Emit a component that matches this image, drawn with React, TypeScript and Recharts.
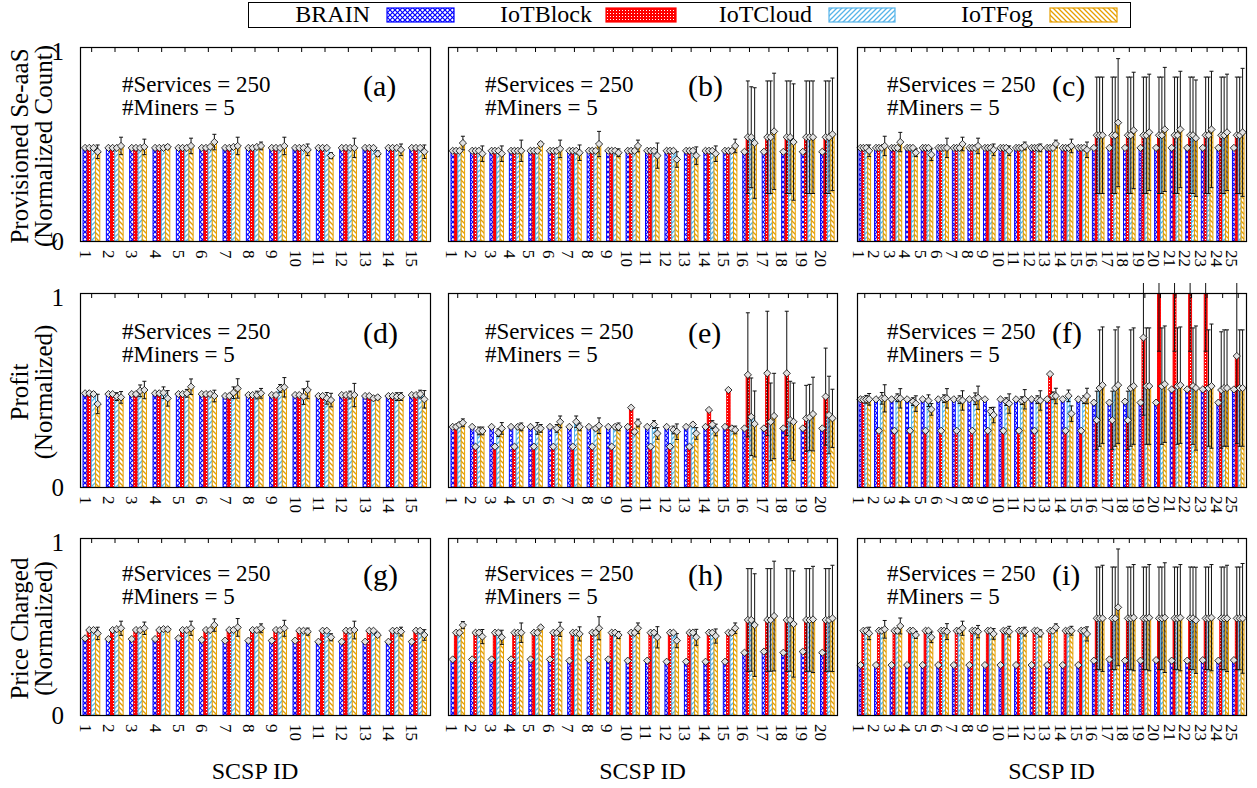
import React from "react";
import { BarChart, Bar, XAxis, YAxis, ErrorBar, LabelList, ReferenceLine } from "recharts";

const FONT = '"Liberation Serif", "Times New Roman", serif';

const SERIES = ["BRAIN", "IoTBlock", "IoTCloud", "IoTFog"];
const COLORS = ["#0000ff", "#ff0000", "#56b4e9", "#e69f00"];

// (a) provisioned, 15 SCSPs
const aBrain = [0.48, 0.48, 0.48, 0.48, 0.48, 0.48, 0.48, 0.48, 0.48, 0.48, 0.48, 0.48, 0.48, 0.48, 0.48];
const aBlock = [0.48, 0.48, 0.48, 0.48, 0.48, 0.48, 0.48, 0.48, 0.48, 0.48, 0.48, 0.48, 0.48, 0.48, 0.48];
const aCloud = [0.48, 0.48, 0.48, 0.48, 0.48, 0.485, 0.485, 0.485, 0.48, 0.48, 0.48, 0.48, 0.48, 0.48, 0.48];
const aFog = [0.46, 0.49, 0.485, 0.485, 0.49, 0.51, 0.49, 0.49, 0.49, 0.47, 0.44, 0.48, 0.45, 0.47, 0.46];
const aBlockErr = [0, 0, 0, 0, 0, 0, 0, 0, 0, 0, 0, 0, 0, 0, 0];
const aCloudErr = [0, 0, 0, 0, 0, 0, 0, 0, 0, 0, 0, 0, 0, 0, 0];
const aFogErr = [0.035, 0.045, 0.04, 0.01, 0.04, 0.04, 0.045, 0.02, 0.045, 0.03, 0.015, 0.05, 0.015, 0.03, 0.035];

// (b) provisioned, 20 SCSPs
const bBrain = [0.465, 0.465, 0.465, 0.465, 0.465, 0.465, 0.465, 0.465, 0.465, 0.465, 0.465, 0.465, 0.465, 0.465, 0.465, 0.46, 0.46, 0.46, 0.46, 0.46];
const bBlock = [0.465, 0.465, 0.465, 0.465, 0.465, 0.465, 0.465, 0.465, 0.465, 0.465, 0.465, 0.465, 0.465, 0.465, 0.465, 0.535, 0.535, 0.535, 0.535, 0.535];
const bCloud = [0.465, 0.465, 0.465, 0.465, 0.465, 0.465, 0.465, 0.465, 0.465, 0.465, 0.465, 0.465, 0.465, 0.465, 0.465, 0.535, 0.535, 0.535, 0.535, 0.535];
const bFog = [0.505, 0.45, 0.45, 0.465, 0.5, 0.475, 0.455, 0.5, 0.455, 0.49, 0.44, 0.42, 0.44, 0.45, 0.49, 0.505, 0.565, 0.51, 0.535, 0.55];
const bBlockErr = [0, 0, 0, 0, 0, 0, 0, 0, 0, 0, 0, 0, 0, 0, 0, 0.29, 0.29, 0.29, 0.29, 0.29];
const bCloudErr = [0, 0, 0, 0, 0, 0, 0, 0, 0, 0, 0, 0, 0, 0, 0, 0.26, 0.29, 0.29, 0.29, 0.29];
const bFogErr = [0.035, 0.04, 0.04, 0.055, 0.01, 0.045, 0.04, 0.065, 0.02, 0.03, 0.065, 0.04, 0.045, 0.04, 0.035, 0.285, 0.3, 0.3, 0.29, 0.29];

// (c) provisioned, 25 SCSPs
const cBrain = [0.48, 0.48, 0.48, 0.48, 0.48, 0.48, 0.48, 0.48, 0.48, 0.48, 0.48, 0.48, 0.48, 0.48, 0.48, 0.48, 0.48, 0.48, 0.48, 0.48, 0.48, 0.48, 0.48, 0.48, 0.48];
const cBlock = [0.48, 0.48, 0.48, 0.48, 0.48, 0.48, 0.48, 0.48, 0.48, 0.48, 0.48, 0.48, 0.48, 0.48, 0.48, 0.545, 0.545, 0.545, 0.545, 0.545, 0.545, 0.545, 0.545, 0.545, 0.545];
const cCloud = [0.48, 0.48, 0.48, 0.48, 0.48, 0.48, 0.48, 0.48, 0.48, 0.48, 0.48, 0.48, 0.48, 0.48, 0.48, 0.545, 0.545, 0.545, 0.545, 0.545, 0.545, 0.545, 0.545, 0.545, 0.545];
const cFog = [0.465, 0.49, 0.51, 0.455, 0.445, 0.48, 0.5, 0.49, 0.47, 0.465, 0.49, 0.48, 0.5, 0.49, 0.47, 0.545, 0.61, 0.57, 0.56, 0.575, 0.575, 0.53, 0.575, 0.56, 0.56];
const cBlockErr = [0, 0, 0, 0, 0, 0, 0, 0, 0, 0, 0, 0, 0, 0, 0, 0.3, 0.3, 0.3, 0.3, 0.3, 0.3, 0.3, 0.3, 0.3, 0.3];
const cCloudErr = [0, 0, 0, 0, 0, 0, 0, 0, 0, 0, 0, 0, 0, 0, 0, 0.3, 0.3, 0.3, 0.3, 0.3, 0.3, 0.3, 0.3, 0.3, 0.3];
const cFogErr = [0.03, 0.05, 0.05, 0.02, 0.03, 0.05, 0.035, 0.04, 0.03, 0.025, 0.02, 0.02, 0.02, 0.035, 0.04, 0.3, 0.33, 0.3, 0.3, 0.32, 0.3, 0.3, 0.3, 0.3, 0.33];

// (d) profit, 15 SCSPs
const dBrain = [0.483, 0.479, 0.479, 0.483, 0.479, 0.479, 0.469, 0.474, 0.474, 0.474, 0.469, 0.474, 0.469, 0.469, 0.474];
const dBlock = [0.483, 0.479, 0.479, 0.483, 0.479, 0.479, 0.469, 0.474, 0.474, 0.474, 0.469, 0.474, 0.469, 0.469, 0.474];
const dCloud = [0.479, 0.466, 0.496, 0.486, 0.483, 0.479, 0.486, 0.474, 0.508, 0.466, 0.457, 0.474, 0.457, 0.466, 0.479];
const dFog = [0.428, 0.462, 0.5, 0.457, 0.517, 0.469, 0.508, 0.483, 0.514, 0.5, 0.448, 0.474, 0.462, 0.466, 0.452];
const dBlockErr = [0, 0, 0, 0, 0, 0, 0, 0, 0, 0, 0, 0, 0, 0, 0];
const dCloudErr = [0.01, 0.02, 0.03, 0.03, 0.02, 0.01, 0.03, 0.02, 0.02, 0.04, 0.03, 0.02, 0.01, 0.02, 0.02];
const dFogErr = [0.05, 0.03, 0.045, 0.04, 0.04, 0.03, 0.05, 0.025, 0.05, 0.045, 0.035, 0.06, 0.01, 0.02, 0.045];

// (e) profit, 20 SCSPs
const eBrain = [0.31, 0.31, 0.31, 0.31, 0.31, 0.31, 0.31, 0.31, 0.31, 0.31, 0.31, 0.31, 0.31, 0.31, 0.31, 0.302, 0.302, 0.302, 0.302, 0.302];
const eBlock = [0.31, 0.208, 0.208, 0.208, 0.208, 0.208, 0.208, 0.208, 0.208, 0.409, 0.208, 0.208, 0.208, 0.397, 0.5, 0.578, 0.586, 0.586, 0.354, 0.466];
const eCloud = [0.322, 0.289, 0.28, 0.31, 0.302, 0.302, 0.336, 0.302, 0.31, 0.285, 0.322, 0.294, 0.322, 0.322, 0.302, 0.362, 0.336, 0.345, 0.359, 0.371];
const eFog = [0.331, 0.289, 0.302, 0.31, 0.302, 0.336, 0.31, 0.316, 0.31, 0.33, 0.276, 0.285, 0.276, 0.294, 0.294, 0.325, 0.366, 0.336, 0.376, 0.354];
const eBlockErr = [0, 0, 0, 0, 0, 0, 0, 0, 0, 0, 0, 0, 0, 0, 0, 0.32, 0.32, 0.32, 0.17, 0.25];
const eCloudErr = [0.01, 0.02, 0.02, 0.01, 0.03, 0.02, 0.03, 0.01, 0.01, 0.01, 0.02, 0.02, 0.01, 0.02, 0.01, 0.2, 0.2, 0.2, 0.17, 0.2];
const eFogErr = [0.02, 0.02, 0.03, 0.02, 0.02, 0.03, 0.02, 0.04, 0.02, 0.02, 0.03, 0.04, 0.03, 0.03, 0.02, 0.17, 0.22, 0.2, 0.19, 0.15];

// (f) profit, 25 SCSPs
const fBrain = [0.452, 0.452, 0.452, 0.452, 0.452, 0.452, 0.452, 0.452, 0.452, 0.452, 0.452, 0.452, 0.452, 0.452, 0.452, 0.435, 0.435, 0.44, 0.435, 0.435, 0.503, 0.503, 0.503, 0.435, 0.503];
const fBlock = [0.45, 0.29, 0.29, 0.29, 0.29, 0.29, 0.29, 0.29, 0.29, 0.29, 0.29, 0.29, 0.582, 0.29, 0.29, 0.344, 0.344, 0.344, 0.77, 1.2, 1.2, 1.2, 1.2, 0.5, 0.675];
const fCloud = [0.452, 0.457, 0.46, 0.44, 0.445, 0.455, 0.45, 0.455, 0.39, 0.44, 0.445, 0.45, 0.47, 0.47, 0.45, 0.51, 0.51, 0.51, 0.52, 0.52, 0.52, 0.52, 0.51, 0.51, 0.51];
const fFog = [0.452, 0.457, 0.457, 0.43, 0.4, 0.457, 0.446, 0.46, 0.371, 0.43, 0.452, 0.446, 0.469, 0.378, 0.469, 0.525, 0.525, 0.52, 0.52, 0.53, 0.525, 0.51, 0.52, 0.51, 0.51];
const fBlockErr = [0, 0, 0, 0, 0, 0, 0, 0, 0, 0, 0, 0, 0, 0, 0, 0.15, 0.15, 0.15, 0.4, 0.5, 0.5, 0.5, 0.5, 0.3, 0.45];
const fCloudErr = [0.02, 0.03, 0.02, 0.02, 0.03, 0.02, 0.02, 0.03, 0.02, 0.02, 0.02, 0.02, 0.02, 0.03, 0.02, 0.3, 0.3, 0.3, 0.3, 0.3, 0.3, 0.3, 0.3, 0.3, 0.3];
const fFogErr = [0.03, 0.07, 0.05, 0.04, 0.03, 0.05, 0.05, 0.06, 0.04, 0.05, 0.05, 0.05, 0.04, 0.04, 0.04, 0.3, 0.3, 0.3, 0.3, 0.3, 0.3, 0.32, 0.32, 0.3, 0.3];

// (g) price, 15 SCSPs
const gBrain = [0.433, 0.429, 0.429, 0.429, 0.433, 0.424, 0.42, 0.42, 0.42, 0.42, 0.414, 0.414, 0.414, 0.414, 0.414];
const gBlock = [0.48, 0.48, 0.48, 0.48, 0.48, 0.48, 0.48, 0.48, 0.48, 0.476, 0.476, 0.476, 0.476, 0.476, 0.476];
const gCloud = [0.48, 0.485, 0.48, 0.485, 0.48, 0.48, 0.48, 0.48, 0.48, 0.476, 0.476, 0.476, 0.476, 0.476, 0.476];
const gFog = [0.461, 0.49, 0.49, 0.484, 0.49, 0.508, 0.495, 0.49, 0.49, 0.471, 0.439, 0.48, 0.452, 0.471, 0.452];
const gBlockErr = [0, 0, 0, 0, 0, 0, 0, 0, 0, 0, 0, 0, 0, 0, 0];
const gCloudErr = [0, 0, 0, 0, 0, 0, 0, 0, 0, 0, 0, 0, 0, 0, 0];
const gFogErr = [0.035, 0.04, 0.035, 0.01, 0.04, 0.035, 0.05, 0.025, 0.045, 0.02, 0.02, 0.05, 0.01, 0.025, 0.03];

// (h) price, 20 SCSPs
const hBrain = [0.314, 0.314, 0.314, 0.314, 0.314, 0.314, 0.307, 0.314, 0.314, 0.307, 0.307, 0.301, 0.301, 0.301, 0.301, 0.352, 0.358, 0.352, 0.358, 0.352];
const hBlock = [0.465, 0.465, 0.465, 0.465, 0.465, 0.465, 0.465, 0.465, 0.465, 0.465, 0.465, 0.465, 0.465, 0.465, 0.465, 0.537, 0.537, 0.537, 0.537, 0.537];
const hCloud = [0.465, 0.465, 0.465, 0.465, 0.465, 0.465, 0.465, 0.465, 0.465, 0.465, 0.465, 0.465, 0.465, 0.465, 0.465, 0.537, 0.537, 0.537, 0.537, 0.537];
const hFog = [0.508, 0.443, 0.439, 0.465, 0.495, 0.484, 0.458, 0.49, 0.452, 0.49, 0.439, 0.42, 0.439, 0.446, 0.49, 0.508, 0.559, 0.514, 0.54, 0.546];
const hBlockErr = [0, 0, 0, 0, 0, 0, 0, 0, 0, 0, 0, 0, 0, 0, 0, 0.29, 0.29, 0.29, 0.29, 0.29];
const hCloudErr = [0, 0, 0, 0, 0, 0, 0, 0, 0, 0, 0, 0, 0, 0, 0, 0.29, 0.29, 0.29, 0.29, 0.29];
const hFogErr = [0.02, 0.04, 0.04, 0.055, 0.01, 0.04, 0.04, 0.065, 0.02, 0.03, 0.06, 0.04, 0.045, 0.04, 0.03, 0.29, 0.31, 0.3, 0.3, 0.3];

// (i) price, 25 SCSPs
const iBrain = [0.282, 0.282, 0.282, 0.282, 0.282, 0.282, 0.282, 0.282, 0.282, 0.282, 0.282, 0.282, 0.282, 0.282, 0.282, 0.307, 0.314, 0.307, 0.307, 0.31, 0.307, 0.307, 0.31, 0.307, 0.31];
const iBlock = [0.476, 0.476, 0.476, 0.476, 0.476, 0.476, 0.476, 0.476, 0.476, 0.476, 0.476, 0.476, 0.476, 0.476, 0.476, 0.546, 0.546, 0.546, 0.546, 0.546, 0.546, 0.546, 0.546, 0.546, 0.546];
const iCloud = [0.476, 0.476, 0.476, 0.476, 0.476, 0.476, 0.476, 0.476, 0.476, 0.476, 0.476, 0.476, 0.476, 0.476, 0.476, 0.546, 0.546, 0.546, 0.546, 0.546, 0.546, 0.546, 0.546, 0.546, 0.546];
const iFog = [0.461, 0.484, 0.503, 0.452, 0.439, 0.471, 0.49, 0.471, 0.458, 0.471, 0.471, 0.461, 0.495, 0.476, 0.458, 0.546, 0.608, 0.55, 0.55, 0.55, 0.55, 0.535, 0.55, 0.546, 0.546];
const iBlockErr = [0, 0, 0, 0, 0, 0, 0, 0, 0, 0, 0, 0, 0, 0, 0, 0.29, 0.29, 0.29, 0.29, 0.29, 0.29, 0.29, 0.29, 0.29, 0.29];
const iCloudErr = [0, 0, 0, 0, 0, 0, 0, 0, 0, 0, 0, 0, 0, 0, 0, 0.29, 0.29, 0.29, 0.29, 0.29, 0.29, 0.29, 0.29, 0.29, 0.29];
const iFogErr = [0.035, 0.05, 0.045, 0.02, 0.03, 0.045, 0.04, 0.035, 0.03, 0.03, 0.025, 0.02, 0.02, 0.025, 0.04, 0.3, 0.33, 0.3, 0.3, 0.31, 0.3, 0.3, 0.3, 0.3, 0.31];

const Y_TITLES = [
  ["Provisioned Se-aaS", "(Normalized Count)"],
  ["Profit", "(Normalized)"],
  ["Price Charged", "(Normalized)"],
];

function rows(brain: number[], block: number[], cloud: number[], fog: number[], blockErr: number[], cloudErr: number[], fogErr: number[]) {
  return brain.map((b, i) => ({
    id: String(i + 1),
    brain: b,
    block: block[i],
    cloud: cloud[i],
    fog: fog[i],
    blockErr: blockErr[i],
    cloudErr: cloudErr[i],
    fogErr: fogErr[i],
  }));
}

const PANELS = [
  { tag: "(a)", data: rows(aBrain, aBlock, aCloud, aFog, aBlockErr, aCloudErr, aFogErr) },
  { tag: "(b)", data: rows(bBrain, bBlock, bCloud, bFog, bBlockErr, bCloudErr, bFogErr) },
  { tag: "(c)", data: rows(cBrain, cBlock, cCloud, cFog, cBlockErr, cCloudErr, cFogErr) },
  { tag: "(d)", data: rows(dBrain, dBlock, dCloud, dFog, dBlockErr, dCloudErr, dFogErr) },
  { tag: "(e)", data: rows(eBrain, eBlock, eCloud, eFog, eBlockErr, eCloudErr, eFogErr) },
  { tag: "(f)", data: rows(fBrain, fBlock, fCloud, fFog, fBlockErr, fCloudErr, fFogErr) },
  { tag: "(g)", data: rows(gBrain, gBlock, gCloud, gFog, gBlockErr, gCloudErr, gFogErr) },
  { tag: "(h)", data: rows(hBrain, hBlock, hCloud, hFog, hBlockErr, hCloudErr, hFogErr) },
  { tag: "(i)", data: rows(iBrain, iBlock, iCloud, iFog, iBlockErr, iCloudErr, iFogErr) },
];

// plot-area geometry of the 3x3 grid
const COLS = [
  { x: 80, w: 350, bar: 4.2, note: 122, tag: 363 },
  { x: 448, w: 389, bar: 3.4, note: 485, tag: 688 },
  { x: 857, w: 389, bar: 2.9, note: 887, tag: 1050 },
];
const ROWS = [
  { y: 47, h: 194, s: 45, m: 68 },
  { y: 293, h: 194, s: 46, m: 69 },
  { y: 538, h: 177, s: 43, m: 66 },
];

const Diamond = (p: any) => {
  const vb = p.viewBox && p.viewBox.width != null ? p.viewBox : p;
  const { x, y, width } = vb;
  if (p.value == null || p.value > 1 || x == null) return null;
  const cx = x + width / 2;
  const s = 3.6;
  return (
    <polygon
      points={`${cx},${y - s} ${cx + s},${y} ${cx},${y + s} ${cx - s},${y}`}
      fill="#e2e2e2"
      stroke="#000"
      strokeWidth={0.8}
    />
  );
};

function Panel({ data, col, row, showY }: any) {
  const L = 70;
  const T = 10;
  const R = 4;
  const B = 50;
  const tickLen = 5 / row.h;
  return (
    <div style={{ position: "absolute", left: col.x - L, top: row.y - T }}>
      <BarChart
        width={L + col.w + R}
        height={T + row.h + B}
        data={data}
        margin={{ top: T, right: R, bottom: 0, left: 0 }}
        barGap={0}
        barSize={col.bar}
      >
        <XAxis
          dataKey="id"
          height={B}
          axisLine={false}
          tickLine={false}
          tickSize={0}
          tickMargin={9}
          interval={0}
          angle={90}
          tick={{
            fontSize: 17,
            fill: "#000",
            fontFamily: FONT,
            textAnchor: "start",
            verticalAnchor: "middle",
          } as any}
        />
        <YAxis
          domain={[0, 1]}
          ticks={[0, 1]}
          width={L}
          allowDataOverflow
          axisLine={false}
          tickLine={false}
          tickSize={0}
          tickMargin={16}
          tick={showY ? { fontSize: 25, fill: "#000", fontFamily: FONT } : false}
        />
        {data.map((d: any) => (
          <ReferenceLine
            key={`t${d.id}`}
            segment={[
              { x: d.id, y: 1 },
              { x: d.id, y: 1 - tickLen },
            ]}
            stroke="#000"
            strokeWidth={1}
          />
        ))}
        <Bar dataKey="brain" fill="url(#pBrain)" stroke={COLORS[0]} strokeWidth={1} isAnimationActive={false}>
          <LabelList dataKey="brain" content={Diamond} />
        </Bar>
        <Bar dataKey="block" fill="url(#pBlock)" stroke={COLORS[1]} strokeWidth={1} isAnimationActive={false}>
          <ErrorBar dataKey="blockErr" width={2} stroke="#111" strokeWidth={1} />
          <LabelList dataKey="block" content={Diamond} />
        </Bar>
        <Bar dataKey="cloud" fill="url(#pCloud)" stroke={COLORS[2]} strokeWidth={1} isAnimationActive={false}>
          <ErrorBar dataKey="cloudErr" width={2} stroke="#111" strokeWidth={1} />
          <LabelList dataKey="cloud" content={Diamond} />
        </Bar>
        <Bar dataKey="fog" fill="url(#pFog)" stroke={COLORS[3]} strokeWidth={1} isAnimationActive={false}>
          <ErrorBar dataKey="fogErr" width={2} stroke="#111" strokeWidth={1} />
          <LabelList dataKey="fog" content={Diamond} />
        </Bar>
      </BarChart>
    </div>
  );
}

function Patterns() {
  return (
    <svg width={0} height={0} style={{ position: "absolute" }}>
      <defs>
        <pattern id="pBrain" width={5} height={5} patternUnits="userSpaceOnUse">
          <rect width={5} height={5} fill="#fff" />
          <path d="M0,0 L5,5 M5,0 L0,5" stroke={COLORS[0]} strokeWidth={1.2} />
        </pattern>
        <pattern id="pBlock" width={3} height={3} patternUnits="userSpaceOnUse">
          <rect width={3} height={3} fill={COLORS[1]} />
          <rect x={1} y={1} width={1} height={1} fill="#fff" />
        </pattern>
        <pattern id="pCloud" width={5} height={5} patternUnits="userSpaceOnUse">
          <rect width={5} height={5} fill="#fff" />
          <path d="M0,5 L5,0 M-1,1 L1,-1 M4,6 L6,4" stroke={COLORS[2]} strokeWidth={1.3} />
        </pattern>
        <pattern id="pFog" width={5} height={5} patternUnits="userSpaceOnUse">
          <rect width={5} height={5} fill="#fff" />
          <path d="M0,0 L5,5 M-1,4 L1,6 M4,-1 L6,1" stroke={COLORS[3]} strokeWidth={1.3} />
        </pattern>
      </defs>
    </svg>
  );
}

const LEGEND = [
  { textEnd: 370, sx: 387, sw: 67, fill: "url(#pBrain)" },
  { textEnd: 592, sx: 606, sw: 70, fill: "url(#pBlock)" },
  { textEnd: 812, sx: 829, sw: 66, fill: "url(#pCloud)" },
  { textEnd: 1033, sx: 1050, sw: 67, fill: "url(#pFog)" },
];

function Overlay() {
  return (
    <svg
      width={1257}
      height={788}
      style={{ position: "absolute", left: 0, top: 0, pointerEvents: "none", fontFamily: FONT }}
    >
      {/* legend */}
      <rect x={248.5} y={2.5} width={882} height={25} fill="none" stroke="#000" strokeWidth={1} />
      {LEGEND.map((l, i) => (
        <g key={SERIES[i]}>
          <text x={l.textEnd} y={22} fontSize={24} textAnchor="end" fill="#000">
            {SERIES[i]}
          </text>
          <rect x={l.sx} y={8} width={l.sw} height={14} fill={l.fill} stroke={COLORS[i]} strokeWidth={1.2} />
        </g>
      ))}
      {/* panel frames and annotations */}
      {ROWS.map((r, ri) =>
        COLS.map((c, ci) => (
          <g key={`${ri}-${ci}`}>
            <rect x={c.x + 0.5} y={r.y + 0.5} width={c.w} height={r.h} fill="none" stroke="#000" strokeWidth={1.2} />
            <text x={c.note} y={r.y + r.s} fontSize={23} fill="#000">
              #Services = 250
            </text>
            <text x={c.note} y={r.y + r.m} fontSize={23} fill="#000">
              #Miners = 5
            </text>
            <text x={c.tag + (ci === 2 ? 2 : 0)} y={r.y + r.s + 4} fontSize={30} fill="#000">
              {PANELS[ri * 3 + ci].tag}
            </text>
          </g>
        ))
      )}
      {/* y titles */}
      {ROWS.map((r, ri) => {
        const cy = r.y + r.h / 2 + 2;
        return (
          <g key={`yt${ri}`}>
            <text transform={`translate(28,${cy}) rotate(-90)`} textAnchor="middle" fontSize={25} fill="#000">
              {Y_TITLES[ri][0]}
            </text>
            <text transform={`translate(52,${cy}) rotate(-90)`} textAnchor="middle" fontSize={25} fill="#000">
              {Y_TITLES[ri][1]}
            </text>
          </g>
        );
      })}
      {/* x titles */}
      {COLS.map((c, ci) => (
        <text key={`xt${ci}`} x={c.x + c.w / 2} y={779} textAnchor="middle" fontSize={24} fill="#000">
          SCSP ID
        </text>
      ))}
    </svg>
  );
}

export default function App() {
  return (
    <div style={{ position: "absolute", left: 0, top: 0, width: 1257, height: 788, background: "#fff", overflow: "hidden" }}>
      <Patterns />
      {ROWS.map((r, ri) =>
        COLS.map((c, ci) => (
          <Panel key={`${ri}-${ci}`} data={PANELS[ri * 3 + ci].data} col={c} row={r} showY={ci === 0} />
        ))
      )}
      <Overlay />
    </div>
  );
}
